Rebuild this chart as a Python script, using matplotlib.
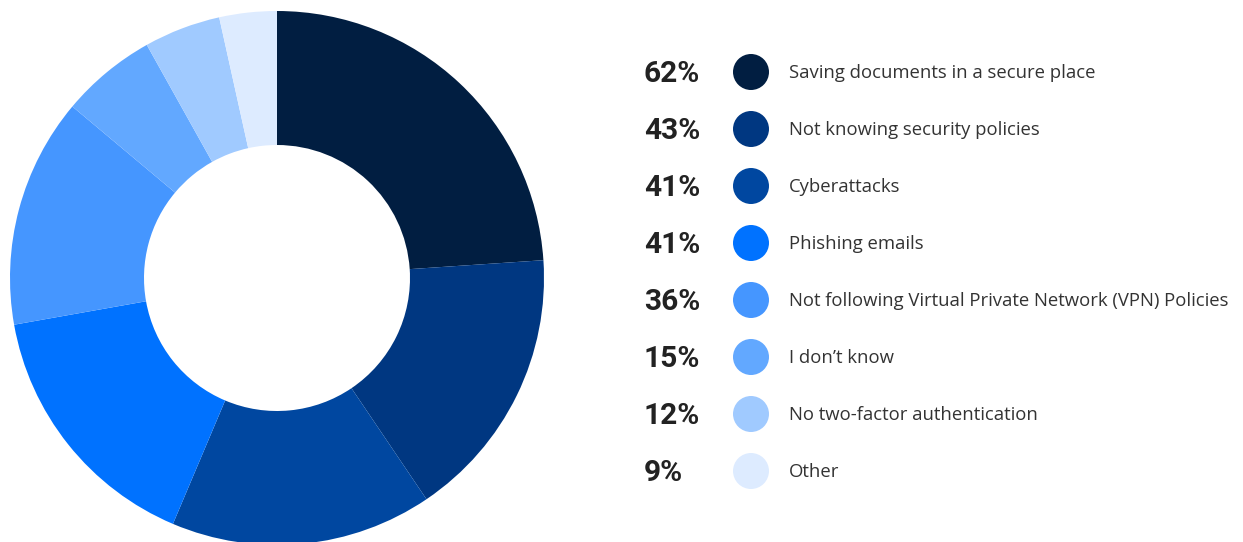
import matplotlib.pyplot as plt
from matplotlib.patches import Circle

W, H = 1243, 542

labels = [
    'Saving documents in a secure place',
    'Not knowing security policies',
    'Cyberattacks',
    'Phishing emails',
    'Not following Virtual Private Network (VPN) Policies',
    'I don\u2019t know',
    'No two-factor authentication',
    'Other',
]
shares = [62, 43, 41, 41, 36, 15, 12, 9]
colors = ['#011e41', '#003781', '#0047a0', '#0072ff',
          '#4596ff', '#62a8ff', '#a0caff', '#ddebff']

fig = plt.figure(figsize=(W / 100, H / 100), dpi=100)
ax = fig.add_axes([0, 0, 1, 1])

# donut, drawn in pixel units (y measured from the bottom)
cx, cy, r_out, r_in = 277, H - 278, 267, 133
ax.pie(shares, colors=colors, startangle=90, counterclock=False,
       center=(cx, cy), radius=r_out,
       wedgeprops=dict(width=r_out - r_in, linewidth=0))

ax.set_xlim(0, W)
ax.set_ylim(0, H)
ax.set_aspect('equal')
ax.axis('off')

# legend rows
row0, step = 72, 57
for i, (lab, val, col) in enumerate(zip(labels, shares, colors)):
    y = H - (row0 + i * step)
    ax.text(644, y - 2, f'{val}%', fontsize=21.5, fontweight='bold', family='Roboto',
            color='#222222', ha='left', va='center')
    ax.add_patch(Circle((751, y), 18, color=col, lw=0))
    ax.text(789, y - 1, lab, fontsize=13.3, family='Open Sans',
            color='#333333', ha='left', va='center')

fig.savefig('out.png', dpi=100)
